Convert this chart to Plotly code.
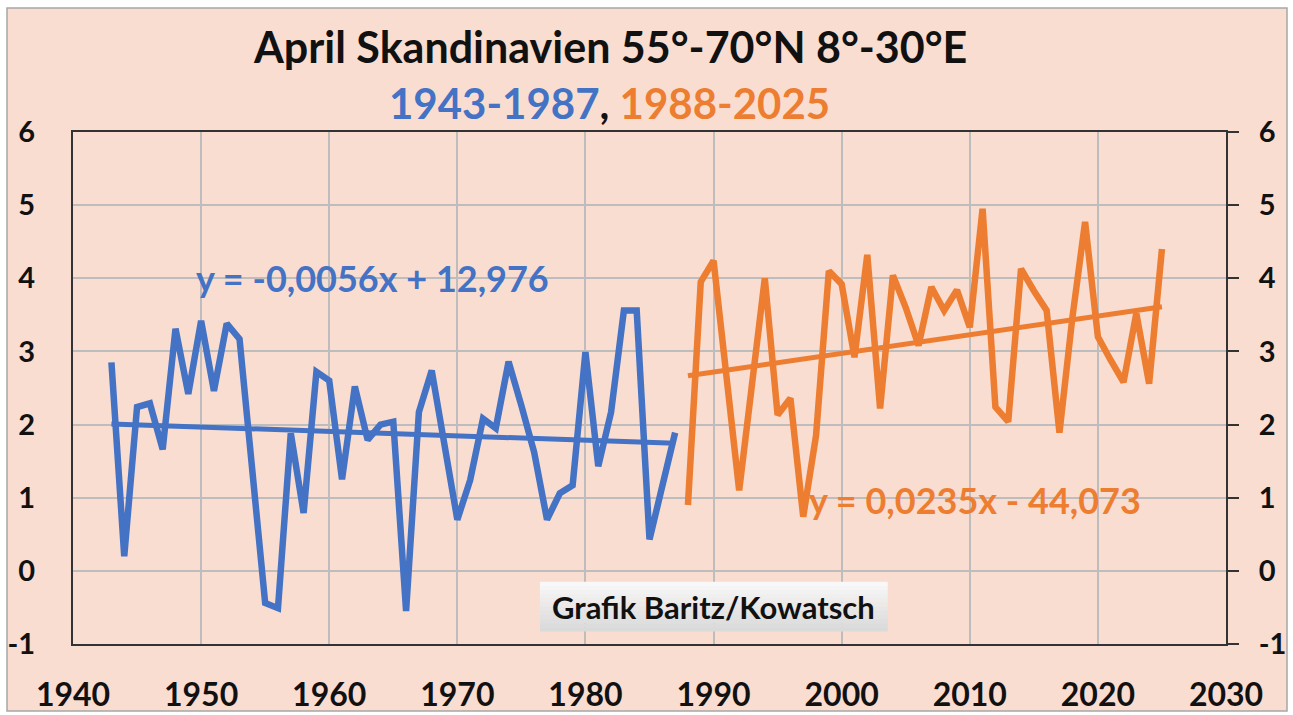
import numpy as np
import plotly.graph_objects as go

# ---- data ----
blue_years = list(range(1943, 1988))
blue_vals = [2.85, 0.20, 2.24, 2.29, 1.66, 3.31, 2.42, 3.42, 2.46, 3.38, 3.17,
             1.40, -0.44, -0.51, 1.88, 0.79, 2.72, 2.60, 1.25, 2.52, 1.79,
             2.00, 2.04, -0.55, 2.17, 2.74, 1.75, 0.70, 1.24, 2.08, 1.95,
             2.86, 2.26, 1.62, 0.70, 1.06, 1.17, 2.99, 1.43, 2.17, 3.56,
             3.56, 0.43, 1.20, 1.89]
orange_years = list(range(1988, 2026))
orange_vals = [0.90, 3.95, 4.24, 2.65, 1.10, 2.55, 4.00, 2.13, 2.36, 0.74,
               1.85, 4.10, 3.92, 2.92, 4.32, 2.22, 4.04, 3.60, 3.08, 3.88,
               3.56, 3.84, 3.33, 4.95, 2.24, 2.04, 4.13, 3.83, 3.56, 1.89,
               3.45, 4.77, 3.20, 2.88, 2.58, 3.52, 2.56, 4.40]
x_ticks = [1940, 1950, 1960, 1970, 1980, 1990, 2000, 2010, 2020, 2030]
y_ticks = [-1, 0, 1, 2, 3, 4, 5, 6]
y_labels = ["-1", "0", "1", "2", "3", "4", "5", "6"]
blue_eq = "y = -0,0056x + 12,976"
orange_eq = "y = 0,0235x - 44,073"
title_text = "April Skandinavien 55°-70°N 8°-30°E"
watermark = "Grafik Baritz/Kowatsch"

BLUE = "#4472C4"
ORANGE = "#ED7D31"
BG = "#F9DDD0"
GRID = "#BDBDBD"
FONT = "Lato"

def trend(xs, ys):
    k, d = np.polyfit(xs, ys, 1)
    xe = [xs[0], xs[-1]]
    return xe, [k * v + d for v in xe]

fig = go.Figure()
fig.add_trace(go.Scatter(x=blue_years, y=blue_vals, mode="lines",
                         line=dict(color=BLUE, width=6.5), showlegend=False))
bx, by = trend(blue_years, blue_vals)
fig.add_trace(go.Scatter(x=bx, y=by, mode="lines",
                         line=dict(color=BLUE, width=5), showlegend=False))
fig.add_trace(go.Scatter(x=orange_years, y=orange_vals, mode="lines",
                         line=dict(color=ORANGE, width=6.5), showlegend=False))
ox, oy = trend(orange_years, orange_vals)
fig.add_trace(go.Scatter(x=ox, y=oy, mode="lines",
                         line=dict(color=ORANGE, width=5), showlegend=False))
# invisible trace for right axis
fig.add_trace(go.Scatter(x=[x_ticks[0]], y=[y_ticks[0]], yaxis="y2", mode="lines",
                         line=dict(width=0), hoverinfo="skip", showlegend=False))

L, R, T, B = 73, 67, 132, 71
W, H = 1293, 715
pw, ph = W - L - R, H - T - B

def px(x):
    return (x - L) / pw

def py(y):
    return (H - B - y) / ph

shapes = [dict(type="rect", xref="paper", yref="paper",
               x0=px(7), x1=px(1287), y0=py(711), y1=py(8),
               fillcolor=BG, line=dict(color="#A6A6A6", width=1.5), layer="below")]
# watermark box with soft vertical gradient
n = 12
for i in range(n):
    y0 = -0.83 + i * (0.68 / n)
    c = int(218 + 30 * (i / (n - 1)))
    shapes.append(dict(type="rect", xref="x", yref="y", x0=1976.45, x1=2003.6,
                       y0=y0, y1=y0 + 0.68 / n + 0.002,
                       fillcolor=f"rgb({c},{c},{c})", line=dict(width=0), layer="above"))

ann = dict(showarrow=False, xanchor="center", yanchor="middle")
yfont = dict(family=FONT, size=29, color="#111111", weight="bold")

fig.update_layout(
    width=W, height=H,
    margin=dict(l=L, r=R, t=T, b=B, pad=0, autoexpand=False),
    paper_bgcolor="white", plot_bgcolor="rgba(0,0,0,0)",
    font=dict(family=FONT, color="#000000"),
    shapes=shapes,
    xaxis=dict(range=[1940, 2030], tickvals=x_ticks, ticktext=[str(v) for v in x_ticks],
               showgrid=True, gridcolor=GRID, gridwidth=2, automargin=False,
               showline=True, linecolor="#333333", linewidth=2, mirror=True,
               ticks="", ticklabelstandoff=22, zeroline=False,
               tickfont=dict(family=FONT, size=32, color="#111111", weight="bold")),
    yaxis=dict(range=[-1, 6], tickvals=y_ticks, ticktext=y_labels,
               showgrid=True, gridcolor=GRID, gridwidth=2,
               showline=True, linecolor="#333333", linewidth=2, zeroline=False,
               ticks="", ticklabelstandoff=30, automargin=False, tickfont=yfont),
    yaxis2=dict(range=[-1, 6], tickvals=y_ticks, ticktext=y_labels,
                overlaying="y", side="right",
                showgrid=False, showline=True, linecolor="#333333", linewidth=2,
                ticks="outside", ticklen=11, tickwidth=2, tickcolor="#333333",
                ticklabelstandoff=14, zeroline=False, automargin=False, tickfont=yfont),
    annotations=[
        dict(text=title_text, xref="paper", yref="paper", x=px(610), y=py(46),
             font=dict(family=FONT, size=43, color="#111111", weight="bold"), **ann),
        dict(text=f"<span style='color:{BLUE}'>1943-1987</span>, "
                  f"<span style='color:{ORANGE}'>1988-2025</span>",
             xref="paper", yref="paper", x=px(609), y=py(103),
             font=dict(family=FONT, size=42, color="#111111", weight="bold"), **ann),
        dict(text=blue_eq, xref="x", yref="y", x=1963.4, y=4.0,
             font=dict(family=FONT, size=36, color=BLUE, weight="bold"), **ann),
        dict(text=orange_eq, xref="x", yref="y", x=2010.4, y=0.97,
             font=dict(family=FONT, size=36, color=ORANGE, weight="bold"), **ann),
        dict(text=watermark, xref="x", yref="y", x=1990.0, y=-0.49,
             font=dict(family=FONT, size=31, color="#111111", weight="bold"), **ann),
    ],
)

fig.write_html("out.html", config={"displayModeBar": False},
               post_script="document.body.style.margin='0';"
               "document.body.style.overflow='hidden';")
